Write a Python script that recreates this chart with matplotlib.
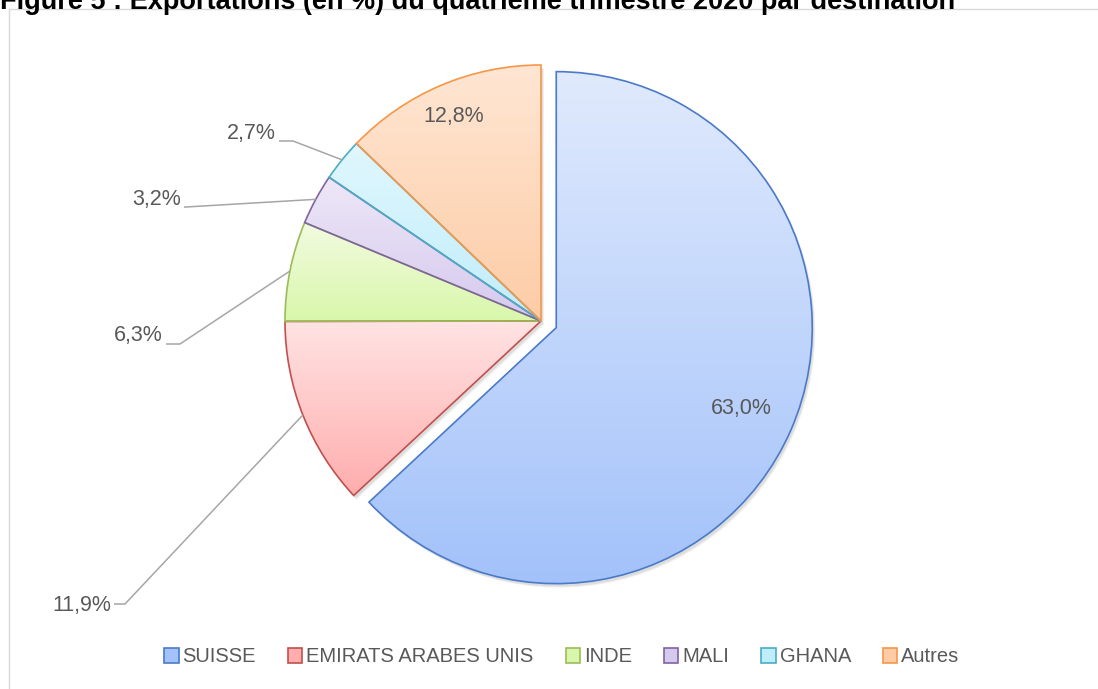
import numpy as np
import matplotlib
matplotlib.use("Agg")
import matplotlib.pyplot as plt
import matplotlib.patches as mpatches
from matplotlib.colors import LinearSegmentedColormap

# Data
destinations = ["SUISSE", "EMIRATS ARABES UNIS", "INDE", "MALI", "GHANA", "Autres"]
shares = [63.0, 11.9, 6.3, 3.2, 2.7, 12.8]
title = "Figure 5 : Exportations (en %) du quatrième trimestre 2020 par destination"

# Styles
edge_colors = ["#4a7ac8", "#c0504d", "#9bbb59", "#8064a2", "#4bacc6", "#f79646"]
top_colors = ["#e0eafd", "#ffe3e3", "#f2fbe0", "#eee7f7", "#e0f7fd", "#ffe6d3"]
bottom_colors = ["#a3c2fa", "#ffadad", "#d9f7ab", "#d5c9ee", "#c0edfb", "#fdcca6"]
explode_frac = [0.065, 0, 0, 0, 0, 0]

W, H = 1098, 689
plt.rcParams["font.family"] = ["Liberation Sans Narrow", "Liberation Sans", "DejaVu Sans"]
fig = plt.figure(figsize=(W / 100, H / 100), dpi=100)
ax = fig.add_axes([0, 0, 1, 1])

cx, cy, r = 541, H - 321, 256
wedges, _ = ax.pie(shares, explode=[e * r for e in explode_frac], startangle=90,
                   counterclock=False, center=(cx, cy), radius=r, frame=True,
                   wedgeprops=dict(linewidth=1.2, facecolor="none"))

for i, w in enumerate(wedges):
    w.set_edgecolor(edge_colors[i])
    w.set_zorder(3)
    # soft shadow
    for k, a in ((3, 0.06), (2, 0.08)):
        sh = mpatches.Wedge((w.center[0] + k, w.center[1] - k - 1), w.r, w.theta1, w.theta2,
                            facecolor="#000000", alpha=a, edgecolor="none", zorder=1)
        ax.add_patch(sh)
    # vertical gradient fill clipped to the wedge
    ext = w.get_path().get_extents(w.get_patch_transform())
    cmap = LinearSegmentedColormap.from_list("g%d" % i, [top_colors[i], bottom_colors[i]])
    grad = np.linspace(0, 1, 256).reshape(-1, 1)
    im = ax.imshow(grad, extent=[ext.x0, ext.x1, ext.y0, ext.y1], origin="upper",
                   cmap=cmap, aspect="auto", zorder=2, interpolation="bilinear")
    im.set_clip_path(w)

label_color = "#595959"
fs = 15.5

# inside labels
inside = {0: 0.79, 5: 0.87}
for i, d in inside.items():
    w = wedges[i]
    mid = np.deg2rad((w.theta1 + w.theta2) / 2)
    x = w.center[0] + d * w.r * np.cos(mid)
    y = w.center[1] + d * w.r * np.sin(mid)
    ax.text(x, y, f"{shares[i]:.1f}".replace(".", ",") + "%", ha="center", va="center",
            fontsize=fs, color=label_color, zorder=5)

# outside labels with leader lines: (text right x, text y, line y, elbow x)
outside = {
    1: (111, H - 605, H - 604, 125),
    2: (163, H - 336, H - 344, 180),
    3: (181, H - 200, H - 207, 186),
    4: (276, H - 133, H - 141, 293),
}
for i, (tx, ty, ly, ex) in outside.items():
    w = wedges[i]
    mid = np.deg2rad((w.theta1 + w.theta2) / 2)
    px = w.center[0] + w.r * np.cos(mid)
    py = w.center[1] + w.r * np.sin(mid)
    ax.plot([tx + 3, ex, px], [ly, ly, py], color="#a6a6a6", lw=1.1, zorder=4,
            solid_capstyle="butt")
    ax.text(tx, ty, f"{shares[i]:.1f}".replace(".", ",") + "%", ha="right", va="center",
            fontsize=fs, color=label_color, zorder=5)

ax.set_xlim(0, W)
ax.set_ylim(0, H)
ax.axis("off")

# chart frame
fig.patches.append(mpatches.Rectangle((9 / W, -0.1), 1.2, 1 - 9 / H + 0.1,
                                      transform=fig.transFigure, fill=False,
                                      edgecolor="#d9d9d9", lw=1.0))

# title, clipped at top as in the source
fig.text(0.0, 1 - 9 / H, title, ha="left", va="baseline", fontsize=19.5,
         fontweight="bold", family=["Liberation Sans", "DejaVu Sans"], color="#000000")

handles = [mpatches.Patch(facecolor=bottom_colors[i], edgecolor=edge_colors[i], lw=1.2,
                          label=destinations[i]) for i in range(len(destinations))]
fig.legend(handles=handles, loc="center", bbox_to_anchor=(562 / W, 1 - 657 / H), ncol=6,
           frameon=False, fontsize=14.5, labelcolor=label_color, handlelength=0.7,
           handleheight=0.7, handletextpad=0.2, columnspacing=1.6)

fig.savefig("out.png", dpi=100)
